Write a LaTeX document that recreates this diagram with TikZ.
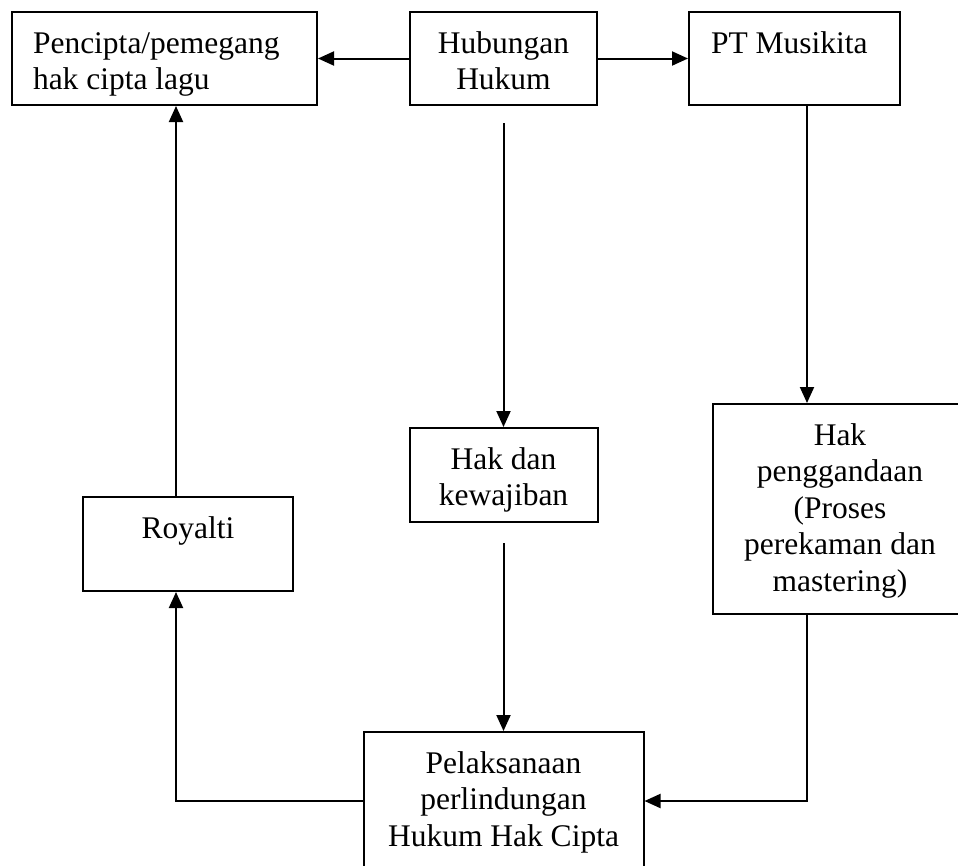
\documentclass[tikz,border=0pt]{standalone}
\usepackage{fontspec}
\setmainfont{Liberation Serif}
\usetikzlibrary{arrows.meta}
\newcommand{\bxt}[4]{\parbox[c][#2][t]{#1}{#3\vspace*{15.5pt}\strut #4}}
\begin{document}
\begin{tikzpicture}[x=1pt,y=-1pt,
  bx/.style={draw,line width=2pt,inner sep=0pt,font=\fontsize{31.5}{36.5}\selectfont},
  conn/.style={line width=2pt},
  arr/.style={conn,-{Triangle[length=16pt,width=14pt]}}]
\fill[white] (0,0) rectangle (958,865);
\useasboundingbox (0,0) rectangle (958,865);
\clip (0,0) rectangle (958,865);
% guide coordinates
\coordinate (lx) at (176,0);
\coordinate (rx) at (807,0);
\coordinate (hy) at (0,801);
\coordinate (a1) at (503.5,123);
\coordinate (a2) at (503.5,543);
% boxes
\node[bx] (pen) at (164.5,58.5) {\bxt{305pt}{93pt}{\raggedright\leftskip=21pt}{Pencipta/pemegang\\hak cipta lagu}};
\node[bx] (hub) at (503.5,58.5) {\bxt{187pt}{93pt}{\centering}{Hubungan\\Hukum}};
\node[bx] (pt) at (794.5,58.5) {\bxt{211pt}{93pt}{\raggedright\leftskip=22pt}{PT Musikita}};
\node[bx] (hdk) at (503.5,475) {\bxt{188pt}{94pt}{\centering}{Hak dan\\kewajiban}};
\node[bx] (hp) at (840,509) {\bxt{254pt}{210pt}{\centering}{Hak\\penggandaan\\(Proses\\perekaman dan\\mastering)}};
\node[bx] (roy) at (188,544) {\bxt{210pt}{94pt}{\centering}{Royalti}};
\node[bx] (pel) at (503.5,807) {\bxt{280pt}{150pt}{\centering}{Pelaksanaan\\perlindungan\\Hukum Hak Cipta}};
% connectors
\draw[arr] (hub.west) -- (pen.east);
\draw[arr] (hub.east) -- (pt.west);
\draw[arr] (a1) -- (hdk.north);
\draw[arr] (a2) -- (pel.north);
\draw[arr] (pt.south -| rx) -- (hp.north -| rx);
\draw[arr] (hp.south -| rx) |- (pel.east |- hy);
\draw[arr] (pel.west |- hy) -| (roy.south -| lx);
\draw[arr] (roy.north -| lx) -- (pen.south -| lx);
\end{tikzpicture}
\end{document}
